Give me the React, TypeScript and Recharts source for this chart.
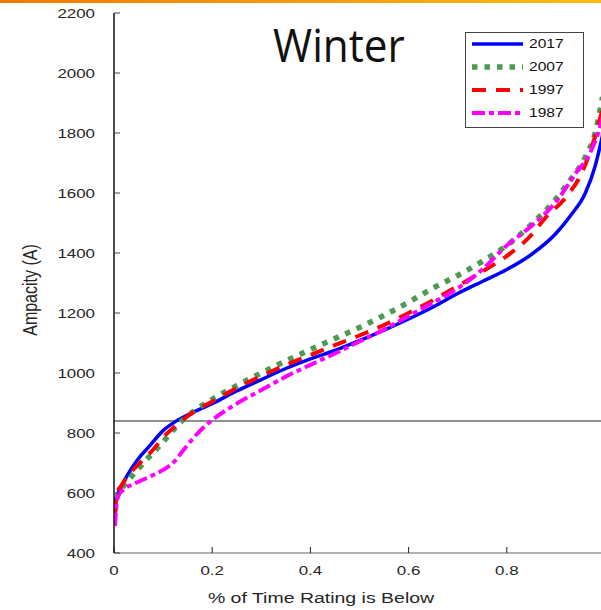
import React from 'react';
import { LineChart, Line, XAxis, YAxis, ReferenceLine } from 'recharts';

// % of time (x) vs ampacity in A (y)
const s2017 = [
  { p: 0.002, a: 565 }, { p: 0.005, a: 588 }, { p: 0.01, a: 606 }, { p: 0.02, a: 638 },
  { p: 0.035, a: 680 }, { p: 0.05, a: 715 }, { p: 0.07, a: 752 }, { p: 0.1, a: 808 },
  { p: 0.13, a: 843 }, { p: 0.16, a: 868 }, { p: 0.2, a: 898 }, { p: 0.25, a: 940 },
  { p: 0.3, a: 978 }, { p: 0.35, a: 1015 }, { p: 0.4, a: 1047 }, { p: 0.45, a: 1075 },
  { p: 0.5, a: 1108 }, { p: 0.55, a: 1143 }, { p: 0.6, a: 1180 }, { p: 0.65, a: 1220 },
  { p: 0.7, a: 1265 }, { p: 0.75, a: 1305 }, { p: 0.8, a: 1345 }, { p: 0.85, a: 1395 },
  { p: 0.9, a: 1465 }, { p: 0.93, a: 1525 }, { p: 0.96, a: 1600 }, { p: 0.98, a: 1690 },
  { p: 0.992, a: 1770 }, { p: 1.0, a: 1830 },
];

const s2007 = [
  { p: 0.002, a: 540 }, { p: 0.005, a: 575 }, { p: 0.01, a: 600 }, { p: 0.02, a: 625 },
  { p: 0.03, a: 645 }, { p: 0.045, a: 672 }, { p: 0.06, a: 700 }, { p: 0.08, a: 735 },
  { p: 0.1, a: 770 }, { p: 0.13, a: 827 }, { p: 0.16, a: 870 }, { p: 0.2, a: 912 },
  { p: 0.25, a: 958 }, { p: 0.3, a: 1000 }, { p: 0.35, a: 1040 }, { p: 0.4, a: 1078 },
  { p: 0.45, a: 1115 }, { p: 0.5, a: 1152 }, { p: 0.55, a: 1192 }, { p: 0.6, a: 1236 },
  { p: 0.65, a: 1283 }, { p: 0.7, a: 1325 }, { p: 0.75, a: 1372 }, { p: 0.8, a: 1425 },
  { p: 0.85, a: 1495 }, { p: 0.9, a: 1580 }, { p: 0.93, a: 1645 }, { p: 0.96, a: 1720 },
  { p: 0.98, a: 1800 }, { p: 0.995, a: 1920 },
];

const s1997 = [
  { p: 0.002, a: 530 }, { p: 0.006, a: 600 }, { p: 0.015, a: 625 }, { p: 0.03, a: 660 },
  { p: 0.06, a: 712 }, { p: 0.08, a: 745 }, { p: 0.1, a: 785 }, { p: 0.13, a: 830 },
  { p: 0.16, a: 868 }, { p: 0.2, a: 905 }, { p: 0.25, a: 950 }, { p: 0.3, a: 990 },
  { p: 0.35, a: 1027 }, { p: 0.4, a: 1060 }, { p: 0.45, a: 1093 }, { p: 0.5, a: 1125 },
  { p: 0.55, a: 1160 }, { p: 0.6, a: 1200 }, { p: 0.65, a: 1243 }, { p: 0.7, a: 1290 },
  { p: 0.75, a: 1338 }, { p: 0.8, a: 1390 }, { p: 0.85, a: 1460 }, { p: 0.88, a: 1520 },
  { p: 0.92, a: 1585 }, { p: 0.955, a: 1675 }, { p: 0.98, a: 1790 }, { p: 0.995, a: 1880 },
];

const s1987 = [
  { p: 0.002, a: 490 }, { p: 0.005, a: 560 }, { p: 0.008, a: 590 }, { p: 0.02, a: 612 },
  { p: 0.04, a: 630 }, { p: 0.06, a: 645 }, { p: 0.08, a: 660 }, { p: 0.1, a: 677 },
  { p: 0.12, a: 700 }, { p: 0.14, a: 740 }, { p: 0.16, a: 780 }, { p: 0.18, a: 815 },
  { p: 0.2, a: 843 }, { p: 0.25, a: 898 }, { p: 0.3, a: 943 }, { p: 0.35, a: 988 },
  { p: 0.4, a: 1027 }, { p: 0.45, a: 1065 }, { p: 0.5, a: 1105 }, { p: 0.55, a: 1145 },
  { p: 0.6, a: 1190 }, { p: 0.65, a: 1235 }, { p: 0.7, a: 1282 }, { p: 0.75, a: 1345 },
  { p: 0.8, a: 1425 }, { p: 0.85, a: 1490 }, { p: 0.9, a: 1570 }, { p: 0.94, a: 1665 },
  { p: 0.97, a: 1735 }, { p: 0.99, a: 1820 }, { p: 0.998, a: 1870 },
];

const xTicks = [0, 0.2, 0.4, 0.6, 0.8, 1];
const yTicks = [400, 600, 800, 1000, 1200, 1400, 1600, 1800, 2000, 2200];
const threshold = 840;

const series = [
  { name: '2017', data: s2017, color: '#0000ff', width: 3.5, dash: undefined },
  { name: '2007', data: s2007, color: '#4e9a52', width: 5.5, dash: '5.5 7' },
  { name: '1997', data: s1997, color: '#ff0000', width: 4, dash: '14 10' },
  { name: '1987', data: s1987, color: '#ff00ff', width: 4, dash: '13 4 5 4' },
];

const FONT = '"Liberation Sans", Arial, sans-serif';
const TXT = '#262626';

function YTick(props: any) {
  const { x, y, payload } = props;
  return (
    <g transform={`translate(${x},${y}) scale(1.3,1)`}>
      <text textAnchor="end" dy="0.35em" fontSize={13} fontFamily={FONT} fill={TXT}>
        {payload.value}
      </text>
    </g>
  );
}

function XTick(props: any) {
  const { x, y, payload } = props;
  return (
    <g transform={`translate(${x},${y}) scale(1.3,1)`}>
      <text textAnchor="middle" dy="0.71em" fontSize={13} fontFamily={FONT} fill={TXT}>
        {String(payload.value)}
      </text>
    </g>
  );
}

export default function App() {
  return (
    <div style={{ position: 'fixed', left: 0, top: 0, width: 601, height: 610, overflow: 'hidden', background: '#fff' }}>
      <LineChart width={610} height={610} margin={{ top: 13, right: 5, bottom: 0, left: 0 }}>
        <XAxis
          type="number"
          dataKey="p"
          domain={[0, 1]}
          ticks={xTicks}
          height={57}
          tickSize={-6}
          tickMargin={19}
          tick={<XTick />}
          axisLine={{ stroke: '#999', strokeWidth: 1.5 }}
          tickLine={{ stroke: '#222' }}
          allowDataOverflow
        />
        <YAxis
          type="number"
          dataKey="a"
          domain={[400, 2200]}
          ticks={yTicks}
          width={114}
          tickSize={-6}
          tickMargin={25}
          tick={<YTick />}
          axisLine={{ stroke: '#111', strokeWidth: 1.5 }}
          tickLine={{ stroke: '#444' }}
          allowDataOverflow
        />
        <ReferenceLine y={threshold} stroke="#222" strokeWidth={1} />
        {series.map((s) => (
          <Line
            key={s.name}
            data={s.data}
            dataKey="a"
            type="monotone"
            stroke={s.color}
            strokeWidth={s.width}
            strokeDasharray={s.dash}
            dot={false}
            activeDot={false}
            isAnimationActive={false}
          />
        ))}
      </LineChart>
      <svg width={601} height={610} style={{ position: 'absolute', left: 0, top: 0, pointerEvents: 'none' }}>
        <defs>
          <linearGradient id="topbar" x1="0" x2="1" y1="0" y2="0">
            <stop offset="0" stopColor="#ef7a00" />
            <stop offset="1" stopColor="#fbbd08" />
          </linearGradient>
        </defs>
        <rect x={0} y={0} width={601} height={3} fill="url(#topbar)" />
        <g transform="translate(339,62) scale(0.92,1)">
          <text textAnchor="middle" fontSize={46} fontFamily='"Open Sans", sans-serif' fill="#111">Winter</text>
        </g>
        <g transform="translate(30,290) scale(1.3,1) rotate(-90)">
          <text textAnchor="middle" dy="0.35em" fontSize={16} fontFamily={FONT} fill={TXT}>Ampacity (A)</text>
        </g>
        <g transform="translate(321,603) scale(1.3,1)">
          <text textAnchor="middle" fontSize={15} fontFamily={FONT} fill={TXT}>% of Time Rating is Below</text>
        </g>
        <rect x={465.5} y={32.5} width={118} height={95} fill="#fff" stroke="#444" strokeWidth={1} />
        {series.map((s, i) => {
          const cy = 44 + i * 23;
          return (
            <g key={s.name}>
              <line x1={472} x2={523} y1={cy} y2={cy} stroke={s.color} strokeWidth={s.width} strokeDasharray={s.dash} />
              <g transform={`translate(529,${cy}) scale(1.3,1)`}>
                <text dy="0.35em" fontSize={12} fontFamily={FONT} fill="#111">{s.name}</text>
              </g>
            </g>
          );
        })}
      </svg>
    </div>
  );
}
